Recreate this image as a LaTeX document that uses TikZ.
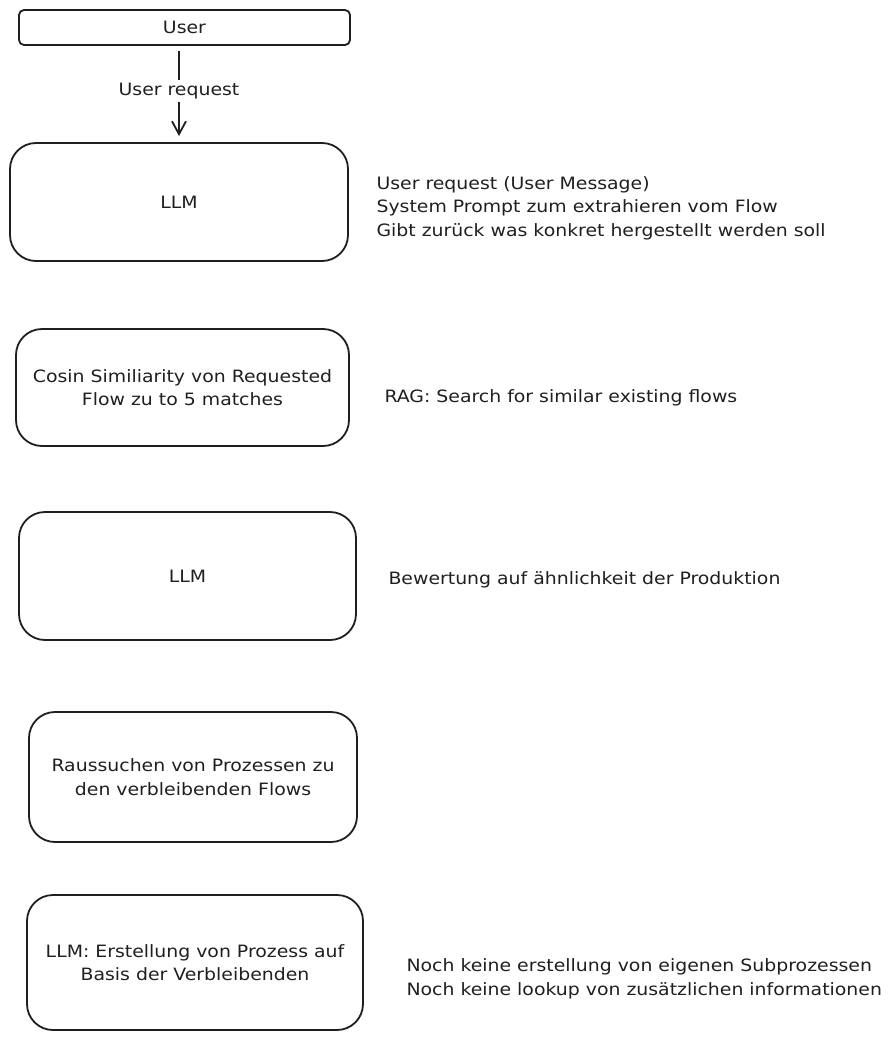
\documentclass[tikz,border=0pt]{standalone}
\usepackage{fontspec}
\setmainfont[FakeStretch=1.11]{DejaVu Sans}
\usetikzlibrary{arrows.meta}
\usetikzlibrary{positioning}
\definecolor{tinte}{rgb}{0.12,0.12,0.12}

\begin{document}
\begin{tikzpicture}[x=1pt, y=-1pt, % y-Achse nach unten, 1 Pixel = 1pt
    kasten/.style={draw=tinte, line width=1.8pt, rounded corners=26pt, align=center,
        text=tinte, inner sep=0pt},
    notiz/.style={anchor=west, align=left, text=tinte},
    font=\fontsize{17}{23.5}\selectfont]

    \useasboundingbox (0,0) rectangle (891,1041);

    % Kaesten zeichnen
    \node[kasten, rounded corners=5pt, minimum width=331pt, minimum height=35pt] (user) at (184.5,27.5) {User};
    \node[kasten, minimum width=338pt, minimum height=118pt] (llmeins) at (179,202) {LLM};
    \node[kasten, minimum width=333pt, minimum height=117pt] (cosin) at (182.5,387.5) {Cosin Similiarity von Requested\\Flow zu to 5 matches};
    \node[kasten, minimum width=337pt, minimum height=128pt] (llmzwei) at (187.5,576) {LLM};
    \node[kasten, minimum width=328pt, minimum height=130pt] (raus) at (193,777) {Raussuchen von Prozessen zu\\den verbleibenden Flows};
    \node[kasten, minimum width=336pt, minimum height=135pt] (erst) at (195,962.5) {LLM: Erstellung von Prozess auf\\Basis der Verbleibenden};

    % Pfeil mit Beschriftung
    \draw[tinte, line width=1.8pt, -{Straight Barb[length=13pt, width=14pt]}, shorten <=5pt, shorten >=6pt]
        (user.south -| llmeins.north) -- node[fill=white, inner sep=3pt, pos=0.47] (anfrage) {User request} (llmeins.north);

    % Notizen rechts
    \node[notiz] (notizeins) at (373,208) {User request (User Message)\\System Prompt zum extrahieren vom Flow\\Gibt zurück was konkret hergestellt werden soll};
    \node[notiz] (notizzwei) at (381,398) {RAG: Search for similar existing flows};
    \node[notiz] (notizdrei) at (385,580) {Bewertung auf ähnlichkeit der Produktion};
    \node[notiz] (notizvier) at (403,979) {Noch keine erstellung von eigenen Subprozessen\\Noch keine lookup von zusätzlichen informationen};

\end{tikzpicture}
\end{document}
